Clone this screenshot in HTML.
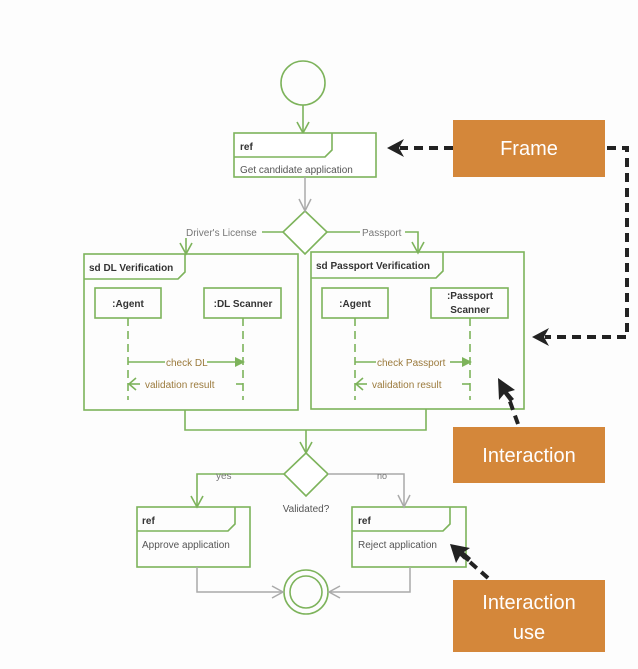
<!DOCTYPE html>
<html><head><meta charset="utf-8"><style>
html,body{margin:0;padding:0;background:#fff;}
svg{display:block;}
text{font-family:"Liberation Sans",sans-serif;}
</style></head><body>
<svg width="638" height="669" viewBox="0 0 638 669" xmlns="http://www.w3.org/2000/svg">
<rect width="638" height="669" fill="#fdfdfd"/>
<g fill="none" stroke="#7db35b" stroke-width="1.6">
 <!-- start -->
 <circle cx="303" cy="83" r="22"/>
 <line x1="303" y1="105" x2="303" y2="133"/>
 <polyline points="297,122 303,133 309,122"/>
 <!-- ref get candidate -->
 <rect x="234" y="133" width="142" height="44" fill="#fff"/>
 <polyline points="234,157 325,157 332,150 332,133"/>
 <!-- diamond 1 -->
 <polygon points="305,211 327,232 305,254 283,232" fill="#fff"/>
 <polyline points="283,232 186,232 186,254"/>
 <polyline points="180,243 186,254 192,243"/>
 <polyline points="327,232 418,232 418,253"/>
 <polyline points="412,242 418,253 424,242"/>
 <!-- DL frame -->
 <rect x="84" y="254" width="214" height="156"/>
 <polyline points="84,279 178,279 185,272 185,254"/>
 <rect x="95" y="288" width="66" height="30"/>
 <rect x="204" y="288" width="77" height="30"/>
 <line x1="128" y1="318" x2="128" y2="400" stroke-dasharray="8,5"/>
 <line x1="243" y1="318" x2="243" y2="400" stroke-dasharray="8,5"/>
 <line x1="128" y1="362" x2="165" y2="362"/><line x1="207" y1="362" x2="235" y2="362"/>
 <line x1="130" y1="384" x2="140" y2="384"/><line x1="236" y1="384" x2="243" y2="384"/>
 <polyline points="136,378 129,384 136,390"/>
 <!-- Passport frame -->
 <rect x="311" y="252" width="213" height="157"/>
 <polyline points="311,278 436,278 443,271 443,252"/>
 <rect x="322" y="288" width="66" height="30"/>
 <rect x="431" y="288" width="77" height="30"/>
 <line x1="355" y1="318" x2="355" y2="400" stroke-dasharray="8,5"/>
 <line x1="470" y1="318" x2="470" y2="400" stroke-dasharray="8,5"/>
 <line x1="355" y1="362" x2="376" y2="362"/><line x1="450" y1="362" x2="462" y2="362"/>
 <line x1="357" y1="384" x2="367" y2="384"/><line x1="462" y1="384" x2="470" y2="384"/>
 <polyline points="363,378 356,384 363,390"/>
 <!-- join -->
 <polyline points="185,410 185,430 426,430 426,409"/>
 <line x1="306" y1="430" x2="306" y2="453"/>
 <polyline points="300,442 306,453 312,442"/>
 <polygon points="306,453 328,474 306,496 284,474" fill="#fff"/>
 <polyline points="284,474 197,474 197,507"/>
 <polyline points="191,496 197,507 203,496"/>
 <!-- approve -->
 <rect x="137" y="507" width="113" height="60"/>
 <polyline points="137,531 228,531 235,524 235,507"/>
 <rect x="352" y="507" width="114" height="60"/>
 <polyline points="352,531 443,531 450,524 450,507"/>
 <!-- final -->
 <circle cx="306" cy="592" r="22"/>
 <circle cx="306" cy="592" r="16"/>
</g>
<polygon points="235,357 245,362 235,367" fill="#7db35b"/>
<polygon points="462,357 472,362 462,367" fill="#7db35b"/>
<g fill="none" stroke="#aaa" stroke-width="1.5">
 <line x1="305" y1="177" x2="305" y2="211"/>
 <polyline points="299,199 305,211 311,199"/>
 <polyline points="328,474 404,474 404,507"/>
 <polyline points="398,495 404,507 410,495"/>
 <polyline points="197,567 197,592 283,592"/>
 <polyline points="272,586 283,592 272,598"/>
 <polyline points="410,567 410,592 329,592"/>
 <polyline points="340,586 329,592 340,598"/>
</g>
<g font-size="10" fill="#333">
 <text x="240" y="150" font-weight="bold">ref</text>
 <text x="240" y="173" fill="#555">Get candidate application</text>
 <rect x="184" y="226" width="78" height="12" fill="#fdfdfd"/>
 <text x="186" y="236" fill="#777">Driver's License</text>
 <rect x="360" y="226" width="45" height="12" fill="#fdfdfd"/>
 <text x="362" y="236" fill="#777">Passport</text>
 <text x="89" y="271" font-weight="bold">sd DL Verification</text>
 <text x="128" y="307" font-weight="bold" text-anchor="middle">:Agent</text>
 <text x="243" y="307" font-weight="bold" text-anchor="middle">:DL Scanner</text>
 <text x="166" y="366" fill="#9b7a3c">check DL</text>
 <text x="145" y="388" fill="#9b7a3c">validation result</text>
 <text x="316" y="269" font-weight="bold">sd Passport Verification</text>
 <text x="355" y="307" font-weight="bold" text-anchor="middle">:Agent</text>
 <text x="470" y="299" font-weight="bold" text-anchor="middle">:Passport</text>
 <text x="470" y="313" font-weight="bold" text-anchor="middle">Scanner</text>
 <text x="377" y="366" fill="#9b7a3c">check Passport</text>
 <text x="372" y="388" fill="#9b7a3c">validation result</text>
 <text x="216" y="479" fill="#777">yes</text>
 <text x="377" y="479" fill="#777" font-size="9">no</text>
 <text x="306" y="512" text-anchor="middle" fill="#555">Validated?</text>
 <text x="142" y="524" font-weight="bold">ref</text>
 <text x="142" y="548" fill="#555">Approve application</text>
 <text x="358" y="524" font-weight="bold">ref</text>
 <text x="358" y="548" fill="#555">Reject application</text>
</g>
<!-- orange boxes -->
<g fill="#d4873a">
 <rect x="453" y="120" width="152" height="57"/>
 <rect x="453" y="427" width="152" height="56"/>
 <rect x="453" y="580" width="152" height="72"/>
</g>
<g fill="#fff" font-size="20" text-anchor="middle">
 <text x="529" y="155">Frame</text>
 <text x="529" y="462">Interaction</text>
 <text x="529" y="609">Interaction</text>
 <text x="529" y="639">use</text>
</g>
<!-- dashed arrows -->
<g fill="none" stroke="#222" stroke-width="4" stroke-dasharray="9,6">
 <line x1="453" y1="148" x2="400" y2="148"/>
 <polyline points="607,148 627,148 627,337 545,337"/>
 <line x1="518" y1="424" x2="508" y2="396"/>
 <line x1="488" y1="578" x2="463" y2="556"/>
</g>
<g fill="#222">
 <polygon points="387,148 404,139 399,148 404,157"/>
 <polygon points="532,337 549,328 544,337 549,346"/>
 <polygon points="498,378 499,400 504,394 510,402 514,399 508,392 515,390"/>
 <polygon points="450,544 456,563 460,556 468,562 471,558 464,552 470,548"/>
</g>
</svg>
</body></html>
